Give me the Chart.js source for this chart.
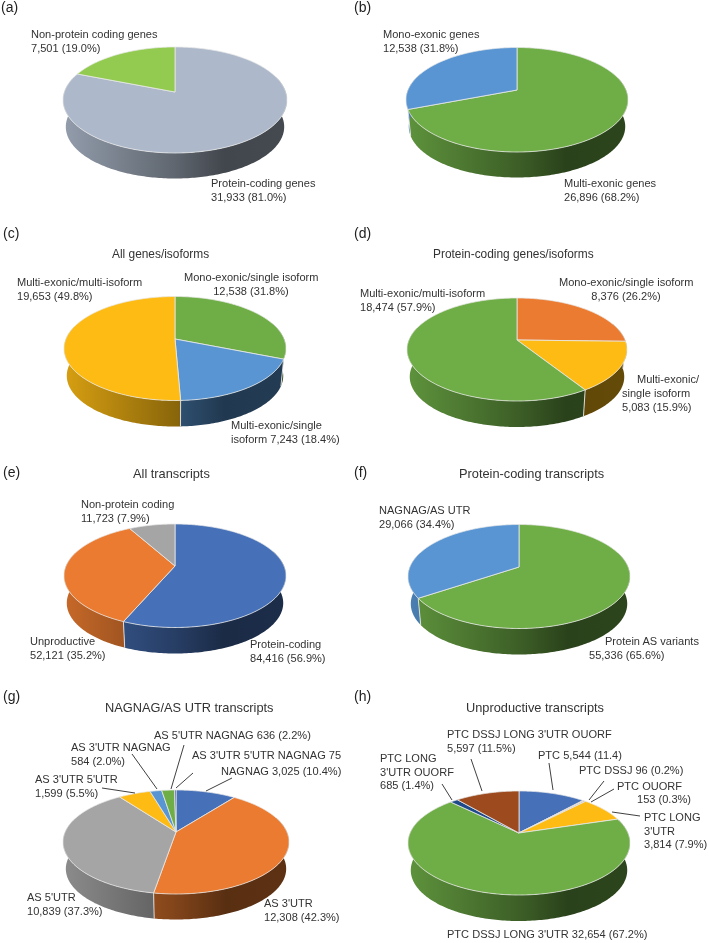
<!DOCTYPE html>
<html>
<head>
<meta charset="utf-8">
<title>Gene and transcript pies</title>
<script src="https://cdn.jsdelivr.net/npm/chart.js@4/dist/chart.umd.min.js"></script>
<style>
  html, body { margin: 0; padding: 0; background: #fff; }
  #page { position: relative; width: 709px; height: 943px; overflow: hidden; font-family: "Liberation Sans", Arial, sans-serif; color: #333; }
  #page canvas { position: absolute; }
  #leaders { position: absolute; left: 0; top: 0; }
  .txt { position: absolute; font-size: 11.05px; line-height: 13.5px; white-space: pre; }
  .title { font-size: 11.9px; }
  .title.big { font-size: 12.8px; }
  .letter { font-size: 14px; color: #222; }
</style>
</head>
<body>
<div id="page"></div>
<script>
// values, clockwise from 12 o'clock
const aCategories = ['Protein-coding genes', 'Non-protein coding genes'];
const aValues = [31933, 7501];
const aColors = ['#ADB9CA', '#92CB4F'];

const bCategories = ['Multi-exonic genes', 'Mono-exonic genes'];
const bValues = [26896, 12538];
const bColors = ['#6FAD46', '#5895D2'];

const cCategories = ['Mono-exonic/single isoform', 'Multi-exonic/single isoform', 'Multi-exonic/multi-isoform'];
const cValues = [12538, 7243, 19653];
const cColors = ['#6FAD46', '#5895D2', '#FDBB14'];

const dCategories = ['Mono-exonic/single isoform', 'Multi-exonic/single isoform', 'Multi-exonic/multi-isoform'];
const dValues = [8376, 5083, 18474];
const dColors = ['#EA7B30', '#FDBB14', '#6FAD46'];

const eCategories = ['Protein-coding', 'Unproductive', 'Non-protein coding'];
const eValues = [84416, 52121, 11723];
const eColors = ['#4671B8', '#EA7B30', '#A5A5A5'];

const fCategories = ['Protein AS variants', 'NAGNAG/AS UTR'];
const fValues = [55336, 29066];
const fColors = ['#6FAD46', '#5895D2'];

const gCategories = ['NAGNAG', "AS 3'UTR", "AS 5'UTR", "AS 3'UTR 5'UTR", "AS 3'UTR NAGNAG", "AS 5'UTR NAGNAG", "AS 3'UTR 5'UTR NAGNAG"];
const gValues = [3025, 12308, 10839, 1599, 584, 636, 75];
const gColors = ['#4671B8', '#EA7B30', '#A5A5A5', '#FDBB14', '#5895D2', '#6FAD46', '#264478'];

const hCategories = ['PTC', 'PTC DSSJ', 'PTC OUORF', "PTC LONG 3'UTR", "PTC DSSJ LONG 3'UTR", "PTC LONG 3'UTR OUORF", "PTC DSSJ LONG 3'UTR OUORF"];
const hValues = [5544, 96, 153, 3814, 32654, 685, 5597];
const hColors = ['#4671B8', '#EA7B30', '#A5A5A5', '#FDBB14', '#6FAD46', '#1F4A8A', '#9C4A1E'];

// cx, cy = where the slices meet, rx = half width, back/front = apex to rim, side = apex to bottom of the wall
// tilt = small view correction in degrees, the source picture is not quite square on
const panels = [
  { cat: aCategories, val: aValues, col: aColors, cx: 174.5, cy: 92, rx: 112, back: 45, front: 61, side: 86.5, tilt: 0 },
  { cat: bCategories, val: bValues, col: bColors, cx: 517, cy: 90, rx: 111, back: 42.5, front: 62, side: 87.5, tilt: 4 },
  { cat: cCategories, val: cValues, col: cColors, cx: 174.5, cy: 339, rx: 111, back: 42.5, front: 61.5, side: 87.5, tilt: -3 },
  { cat: dCategories, val: dValues, col: dColors, cx: 517, cy: 340, rx: 110, back: 42, front: 61, side: 87, tilt: -4 },
  { cat: eCategories, val: eValues, col: eColors, cx: 174.5, cy: 566, rx: 111, back: 42, front: 61.5, side: 87.5, tilt: -2 },
  { cat: fCategories, val: fValues, col: fColors, cx: 519, cy: 567, rx: 111, back: 42.5, front: 61.5, side: 87.5, tilt: 0 },
  { cat: gCategories, val: gValues, col: gColors, cx: 176, cy: 832, rx: 113, back: 42, front: 62, side: 87.5, tilt: -0.5 },
  { cat: hCategories, val: hValues, col: hColors, cx: 519, cy: 833, rx: 111, back: 42, front: 62, side: 88, tilt: 3 }
];

// text on the page: [text, left, top, centred width]
const letters = [
  ['(a)', 1, 1], ['(b)', 354, 1], ['(c)', 3, 227], ['(d)', 354, 227],
  ['(e)', 3, 466], ['(f)', 354, 466], ['(g)', 3, 690], ['(h)', 354, 690]
];
const titles = [
  ['All genes/isoforms', 112, 248], ['Protein-coding genes/isoforms', 433, 248]
];
const bigTitles = [
  ['All transcripts', 133, 467], ['Protein-coding transcripts', 459, 467],
  ['NAGNAG/AS UTR transcripts', 105, 701], ['Unproductive transcripts', 466, 701]
];
const notes = [
  ['Non-protein coding genes\n7,501 (19.0%)', 31, 28],
  ['Protein-coding genes\n31,933 (81.0%)', 211, 177],
  ['Mono-exonic genes\n12,538 (31.8%)', 383, 28],
  ['Multi-exonic genes\n26,896 (68.2%)', 564, 177],
  ['Multi-exonic/multi-isoform\n19,653 (49.8%)', 17, 276],
  ['Mono-exonic/single isoform\n12,538 (31.8%)', 184, 271, 134],
  ['Multi-exonic/single\nisoform 7,243 (18.4%)', 231, 419],
  ['Multi-exonic/multi-isoform\n18,474 (57.9%)', 360, 287],
  ['Mono-exonic/single isoform\n8,376 (26.2%)', 559, 276, 134],
  ['Multi-exonic/', 637, 373],
  ['single isoform\n5,083 (15.9%)', 622, 387],
  ['Non-protein coding\n11,723 (7.9%)', 81, 498],
  ['Unproductive\n52,121 (35.2%)', 30, 635],
  ['Protein-coding\n84,416 (56.9%)', 250, 638],
  ['NAGNAG/AS UTR\n29,066 (34.4%)', 379, 504],
  ['Protein AS variants', 605, 635],
  ['55,336 (65.6%)', 589, 649],
  ["AS 5'UTR NAGNAG 636 (2.2%)", 154, 729],
  ["AS 3'UTR NAGNAG\n584 (2.0%)", 71, 741],
  ["AS 3'UTR 5'UTR NAGNAG 75", 192, 749],
  ['NAGNAG 3,025 (10.4%)', 221, 765],
  ["AS 3'UTR 5'UTR\n1,599 (5.5%)", 35, 773],
  ["AS 5'UTR\n10,839 (37.3%)", 27, 891],
  ["AS 3'UTR\n12,308 (42.3%)", 264, 897],
  ["PTC DSSJ LONG 3'UTR OUORF\n5,597 (11.5%)", 447, 728],
  ['PTC 5,544 (11.4)', 538, 749],
  ["PTC LONG\n3'UTR OUORF\n685 (1.4%)", 380, 752],
  ['PTC DSSJ 96 (0.2%)', 579, 764],
  ['PTC OUORF', 617, 780],
  ['153 (0.3%)', 637, 793],
  ["PTC LONG\n3'UTR\n3,814 (7.9%)", 644, 811],
  ["PTC DSSJ LONG 3'UTR 32,654 (67.2%)", 447, 928]
];
// leader lines in panels g and h
const leaders = [
  [102, 788, 135, 793], [132, 754, 157, 789], [184, 745, 171, 789], [193, 773, 176, 788], [232, 778, 206, 791],
  [471, 759, 482, 791], [442, 784, 452, 800], [549, 763, 553, 790], [604, 781, 589, 800], [614, 789, 591, 802], [640, 816, 612, 812]
];

function shade(hex, f) {
  const n = parseInt(hex.slice(1), 16);
  const r = Math.round((n >> 16) * f), g = Math.round(((n >> 8) & 255) * f), b = Math.round((n & 255) * f);
  return 'rgb(' + r + ',' + g + ',' + b + ')';
}

// the slices of Excel's 3D pie are in perspective, the library's arc angles go through this
function project(arc, o, angle, scale, dy) {
  const fromTop = angle + Math.PI / 2;
  const a = angle + o.tilt * Math.PI / 180 * Math.sin(fromTop / 2);
  const p = (o.front - o.back) / (o.front + o.back);
  const w = 1 - p * Math.sin(a);
  return {
    x: arc.x + scale * arc.outerRadius * Math.sqrt(1 - p * p) * Math.cos(a) / w,
    y: arc.y + dy + scale * o.front * (1 - p) * Math.sin(a) / w
  };
}

const pie3d = {
  id: 'pie3d',
  beforeDatasetsDraw(chart, args, o) {
    const ctx = chart.ctx;
    const arcs = chart.getDatasetMeta(0).data;
    const colors = chart.data.datasets[0].backgroundColor;
    const step = Math.PI / 180;
    const shrink = 0.975;
    const dy = o.side - o.front * shrink;

    // wall
    arcs.forEach((arc, i) => {
      const from = Math.max(arc.startAngle, -0.3);
      const to = Math.min(arc.endAngle, Math.PI + 0.3);
      if (from >= to) return;
      const x0 = arc.x - arc.outerRadius, x1 = arc.x + arc.outerRadius;
      const grad = ctx.createLinearGradient(x0, 0, x1, 0);
      grad.addColorStop(0, shade(colors[i], 0.85));
      grad.addColorStop(0.5, shade(colors[i], 0.55));
      grad.addColorStop(0.72, shade(colors[i], 0.38));
      grad.addColorStop(1, shade(colors[i], 0.4));
      ctx.beginPath();
      for (let a = from; a < to; a += step) {
        const q = project(arc, o, a, 1, 0);
        ctx.lineTo(q.x, q.y);
      }
      const qa = project(arc, o, to, 1, 0);
      ctx.lineTo(qa.x, qa.y);
      const qb = project(arc, o, to, shrink, dy);
      ctx.lineTo(qb.x, qb.y);
      for (let a = to; a > from; a -= step) {
        const q = project(arc, o, a, shrink, dy);
        ctx.lineTo(q.x, q.y);
      }
      const qc = project(arc, o, from, shrink, dy);
      ctx.lineTo(qc.x, qc.y);
      ctx.closePath();
      ctx.fillStyle = grad;
      ctx.fill();
    });

    // seams on the wall
    arcs.forEach(arc => {
      const a = arc.endAngle;
      if (a <= 0 || a >= Math.PI) return;
      const q1 = project(arc, o, a, 1, 0), q2 = project(arc, o, a, shrink, dy);
      ctx.beginPath();
      ctx.moveTo(q1.x, q1.y);
      ctx.lineTo(q2.x, q2.y);
      ctx.strokeStyle = '#e4e4e4';
      ctx.lineWidth = 0.9;
      ctx.stroke();
    });

    // top face
    arcs.forEach((arc, i) => {
      ctx.beginPath();
      ctx.moveTo(arc.x, arc.y);
      for (let a = arc.startAngle; a < arc.endAngle; a += step / 2) {
        const q = project(arc, o, a, 1, 0);
        ctx.lineTo(q.x, q.y);
      }
      const q = project(arc, o, arc.endAngle, 1, 0);
      ctx.lineTo(q.x, q.y);
      ctx.closePath();
      ctx.fillStyle = colors[i];
      ctx.fill();
      ctx.strokeStyle = '#e8e8e8';
      ctx.lineWidth = 0.8;
      ctx.lineJoin = 'round';
      ctx.stroke();
    });
    return false;
  }
};

function addText(item, cls) {
  const el = document.createElement('div');
  el.className = cls;
  el.textContent = item[0];
  el.style.left = item[1] + 'px';
  el.style.top = item[2] + 'px';
  if (item[3]) {
    el.style.width = item[3] + 'px';
    el.style.textAlign = 'center';
  }
  document.getElementById('page').appendChild(el);
}

function makeChart(p) {
  const pad = 2;
  const size = p.rx * 2 + pad * 2;
  const canvas = document.createElement('canvas');
  canvas.width = size;
  canvas.height = size;
  canvas.style.width = size + 'px';
  canvas.style.height = size + 'px';
  canvas.style.left = Math.round(p.cx - size / 2) + 'px';
  canvas.style.top = Math.round(p.cy - size / 2) + 'px';
  document.getElementById('page').appendChild(canvas);

  new Chart(canvas, {
    type: 'pie',
    data: {
      labels: p.cat,
      datasets: [{ data: p.val, backgroundColor: p.col, borderWidth: 0 }]
    },
    options: {
      responsive: false,
      animation: false,
      layout: { padding: pad },
      plugins: {
        legend: { display: false },
        tooltip: { enabled: false },
        pie3d: { back: p.back, front: p.front, side: p.side, tilt: p.tilt }
      }
    },
    plugins: [pie3d]
  });
}

panels.forEach(makeChart);

const svgNs = 'http://www.w3.org/2000/svg';
const svg = document.createElementNS(svgNs, 'svg');
svg.setAttribute('id', 'leaders');
svg.setAttribute('width', 709);
svg.setAttribute('height', 943);
leaders.forEach(l => {
  const line = document.createElementNS(svgNs, 'line');
  line.setAttribute('x1', l[0]);
  line.setAttribute('y1', l[1]);
  line.setAttribute('x2', l[2]);
  line.setAttribute('y2', l[3]);
  line.setAttribute('stroke', '#2a2a2a');
  line.setAttribute('stroke-width', 0.9);
  svg.appendChild(line);
});
document.getElementById('page').appendChild(svg);

letters.forEach(t => addText(t, 'txt letter'));
titles.forEach(t => addText(t, 'txt title'));
bigTitles.forEach(t => addText(t, 'txt title big'));
notes.forEach(t => addText(t, 'txt'));
</script>
</body>
</html>
